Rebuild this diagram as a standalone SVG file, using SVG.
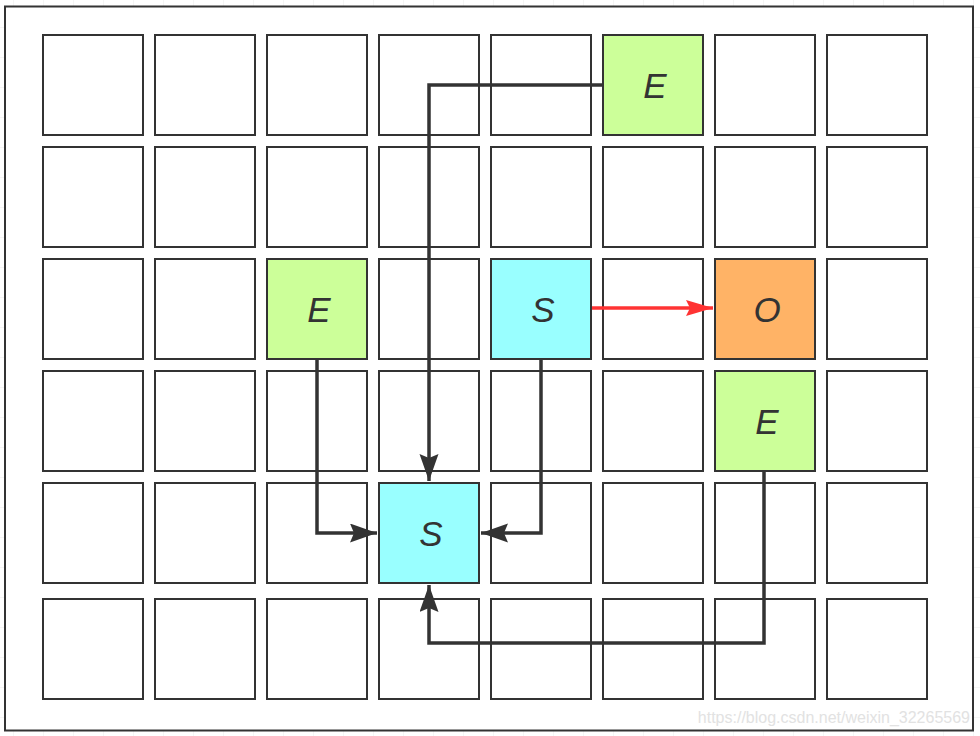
<svg xmlns="http://www.w3.org/2000/svg" width="980" height="736" viewBox="0 0 980 736">
<defs>
<style>
.bg{fill:#ffffff}
.frame{fill:#ffffff;stroke:#333333;stroke-width:2}
.cell{fill:#ffffff;stroke:#333333;stroke-width:2}
.e{fill:#ccff99}
.s{fill:#99ffff}
.o{fill:#ffb366}
.lbl{font-family:"Liberation Sans",Arial,sans-serif;font-style:italic;font-size:35px;fill:#333333;text-anchor:middle}
.conn{fill:none;stroke:#333333;stroke-width:3.5}
.red{fill:none;stroke:#ff3333;stroke-width:3.5}
.wm{font-family:"Liberation Sans",Arial,sans-serif;font-size:16px;fill:#e2e2e2;text-anchor:end}
</style>
<marker id="ah" markerUnits="userSpaceOnUse" markerWidth="30" markerHeight="20" refX="27" refY="9.5" orient="auto">
<path d="M0,0 L27,9.5 L0,19 L4,9.5 Z" fill="#333333"/>
</marker>
<marker id="ahr" markerUnits="userSpaceOnUse" markerWidth="30" markerHeight="20" refX="27" refY="8" orient="auto">
<path d="M0,0 L27,8 L0,16 L4,8 Z" fill="#ff3333"/>
</marker>
<pattern id="gp" x="13" y="27" width="30" height="30" patternUnits="userSpaceOnUse">
<path d="M0,0 H30 M0,0 V30" stroke="#ececec" stroke-width="1" fill="none"/>
</pattern>
</defs>
<rect class="bg" x="0" y="0" width="980" height="736"/>
<rect x="0" y="0" width="980" height="736" fill="url(#gp)"/>
<rect class="frame" x="5" y="6.5" width="968" height="724"/>
<g id="cells">
<rect class="cell" x="43" y="35" width="100" height="100"/>
<rect class="cell" x="155" y="35" width="100" height="100"/>
<rect class="cell" x="267" y="35" width="100" height="100"/>
<rect class="cell" x="379" y="35" width="100" height="100"/>
<rect class="cell" x="491" y="35" width="100" height="100"/>
<rect class="cell" x="715" y="35" width="100" height="100"/>
<rect class="cell" x="827" y="35" width="100" height="100"/>
<rect class="cell" x="43" y="147" width="100" height="100"/>
<rect class="cell" x="155" y="147" width="100" height="100"/>
<rect class="cell" x="267" y="147" width="100" height="100"/>
<rect class="cell" x="379" y="147" width="100" height="100"/>
<rect class="cell" x="491" y="147" width="100" height="100"/>
<rect class="cell" x="603" y="147" width="100" height="100"/>
<rect class="cell" x="715" y="147" width="100" height="100"/>
<rect class="cell" x="827" y="147" width="100" height="100"/>
<rect class="cell" x="43" y="259" width="100" height="100"/>
<rect class="cell" x="155" y="259" width="100" height="100"/>
<rect class="cell" x="379" y="259" width="100" height="100"/>
<rect class="cell" x="603" y="259" width="100" height="100"/>
<rect class="cell" x="827" y="259" width="100" height="100"/>
<rect class="cell" x="43" y="371" width="100" height="100"/>
<rect class="cell" x="155" y="371" width="100" height="100"/>
<rect class="cell" x="267" y="371" width="100" height="100"/>
<rect class="cell" x="379" y="371" width="100" height="100"/>
<rect class="cell" x="491" y="371" width="100" height="100"/>
<rect class="cell" x="603" y="371" width="100" height="100"/>
<rect class="cell" x="827" y="371" width="100" height="100"/>
<rect class="cell" x="43" y="483" width="100" height="100"/>
<rect class="cell" x="155" y="483" width="100" height="100"/>
<rect class="cell" x="267" y="483" width="100" height="100"/>
<rect class="cell" x="491" y="483" width="100" height="100"/>
<rect class="cell" x="603" y="483" width="100" height="100"/>
<rect class="cell" x="715" y="483" width="100" height="100"/>
<rect class="cell" x="827" y="483" width="100" height="100"/>
<rect class="cell" x="43" y="599" width="100" height="100"/>
<rect class="cell" x="155" y="599" width="100" height="100"/>
<rect class="cell" x="267" y="599" width="100" height="100"/>
<rect class="cell" x="379" y="599" width="100" height="100"/>
<rect class="cell" x="491" y="599" width="100" height="100"/>
<rect class="cell" x="603" y="599" width="100" height="100"/>
<rect class="cell" x="715" y="599" width="100" height="100"/>
<rect class="cell" x="827" y="599" width="100" height="100"/>
</g>
<g id="connectors">
<path class="conn" d="M603,85 H429 V481" marker-end="url(#ah)"/>
<path class="conn" d="M317,359 V533 H377" marker-end="url(#ah)"/>
<path class="conn" d="M541,359 V533 H481" marker-end="url(#ah)"/>
<path class="conn" d="M764,471 V643 H429 V585" marker-end="url(#ah)"/>
<path class="red" d="M591,308 H713" marker-end="url(#ahr)"/>
</g>
<g id="e-top">
<rect class="cell e" x="603" y="35" width="100" height="100"/>
<text class="lbl" x="655" y="97.5">E</text>
</g>
<g id="e-left">
<rect class="cell e" x="267" y="259" width="100" height="100"/>
<text class="lbl" x="319" y="321.5">E</text>
</g>
<g id="s-mid">
<rect class="cell s" x="491" y="259" width="100" height="100"/>
<text class="lbl" x="543" y="321.5">S</text>
</g>
<g id="o">
<rect class="cell o" x="715" y="259" width="100" height="100"/>
<text class="lbl" x="767" y="321.5">O</text>
</g>
<g id="e-right">
<rect class="cell e" x="715" y="371" width="100" height="100"/>
<text class="lbl" x="767" y="433.5">E</text>
</g>
<g id="s-target">
<rect class="cell s" x="379" y="483" width="100" height="100"/>
<text class="lbl" x="431" y="545.5">S</text>
</g>
<text class="wm" x="970" y="723">https://blog.csdn.net/weixin_32265569</text>
</svg>
